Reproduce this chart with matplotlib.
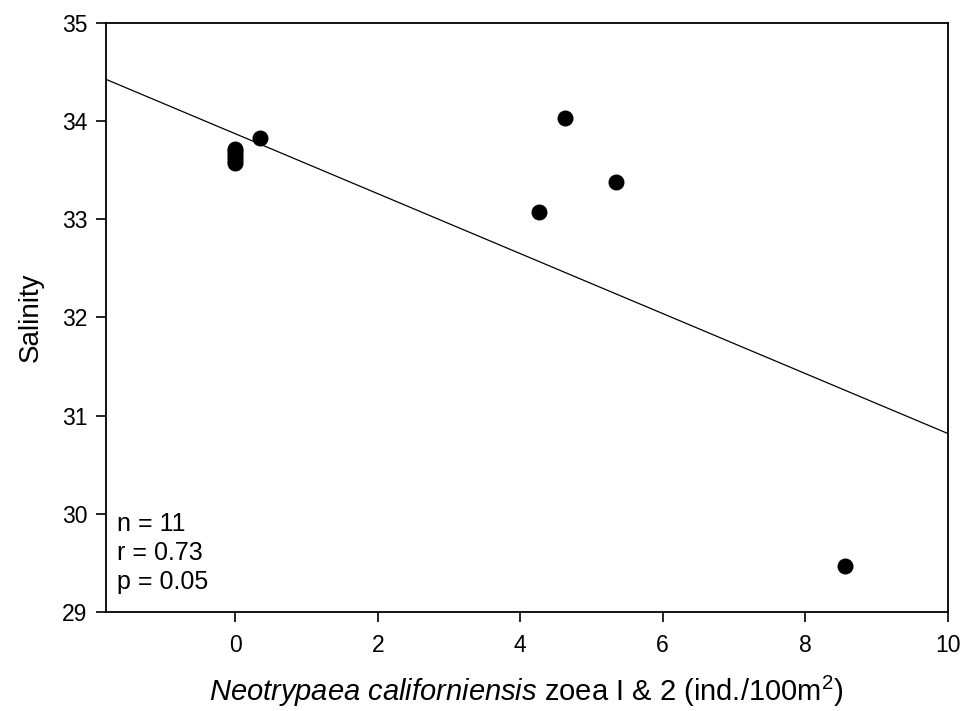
import numpy as np
import matplotlib
matplotlib.use("Agg")
import matplotlib.pyplot as plt

plt.rcParams["font.family"] = ["Liberation Sans", "DejaVu Sans"]
plt.rcParams["mathtext.fontset"] = "custom"
plt.rcParams["mathtext.rm"] = "Liberation Sans"
plt.rcParams["mathtext.it"] = "Liberation Sans:italic"

# %% data
abundance = [0, 0, 0, 0, 0, 0, 0.34, 4.63, 5.34, 4.27, 8.56]
salinity = [33.57, 33.60, 33.63, 33.66, 33.69, 33.71, 33.83, 34.03, 33.38, 33.07, 29.47]
fit_slope = -0.305
fit_intercept = 33.87
stats_text = "n = 11\nr = 0.73\np = 0.05"
xticks = [0, 2, 4, 6, 8, 10]
yticks = [29, 30, 31, 32, 33, 34, 35]

# %% plot
fig = plt.figure(figsize=(9.61, 7.11), dpi=100)
ax = fig.add_axes([0.110, 0.139, 0.876, 0.829])

xlim = (-1.82, 10)
xfit = np.array(xlim)
ax.plot(xfit, fit_intercept + fit_slope * xfit, color="black", lw=0.9)
ax.plot(abundance, salinity, "o", color="black", ms=10.5)

ax.set_xlim(*xlim)
ax.set_ylim(29, 35)
ax.set_xticks(xticks)
ax.set_yticks(yticks)
ax.tick_params(direction="out", length=7, width=1.2, labelsize=16.5, pad=6)
ax.tick_params(axis="x", pad=9)
for s in ax.spines.values():
    s.set_linewidth(1.3)

ax.set_ylabel("Salinity", fontsize=20, labelpad=13)
ax.set_xlabel(r"$\it{Neotrypaea\ californiensis}$ zoea I & 2 (ind./100m$^2$)",
              fontsize=21, labelpad=12)
ax.text(0.013, 0.17, stats_text, transform=ax.transAxes, fontsize=18,
        va="top", ha="left", linespacing=1.26)

fig.savefig("out.png", dpi=100)
